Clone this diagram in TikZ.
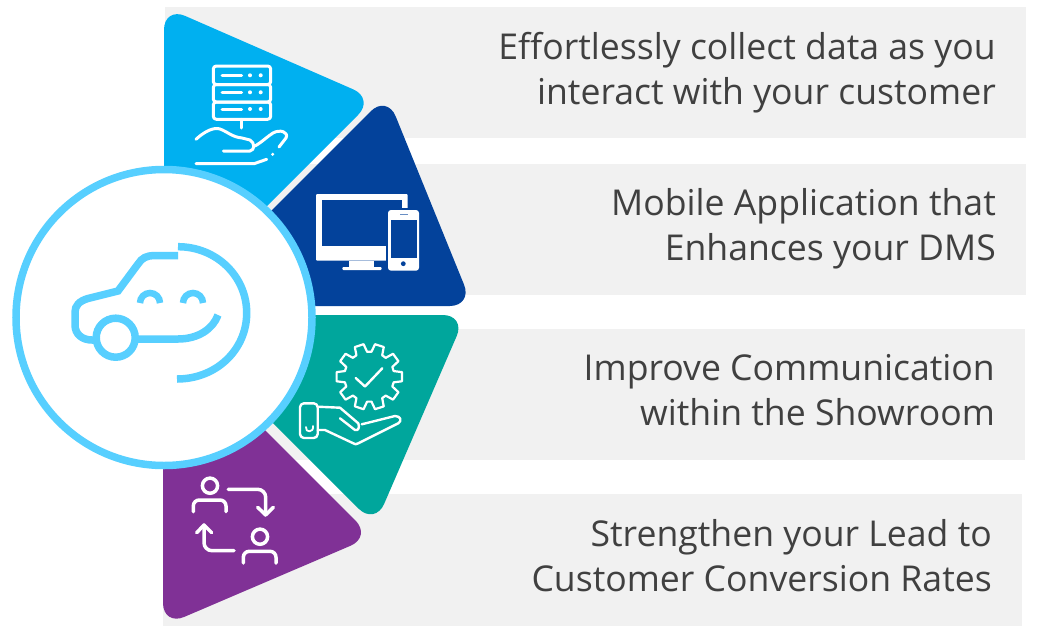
\documentclass[tikz,border=0pt]{standalone}
\usepackage{fontspec}
\setmainfont{Open Sans}
\definecolor{bandgray}{HTML}{F1F1F1}
\definecolor{skyblue}{HTML}{00B0F0}
\definecolor{navyblue}{HTML}{03429B}
\definecolor{tealgreen}{HTML}{00A69C}
\definecolor{plumpurple}{HTML}{803196}
\definecolor{ringblue}{HTML}{57CFFF}
\definecolor{textgray}{HTML}{404040}
\tikzset{
  band/.style={fill=bandgray, draw=none},
  petal/.style={rounded corners=23pt, draw=none},
  caption/.style={anchor=base east, align=right, text=textgray, font=\fontsize{35.6}{45}\selectfont, inner sep=0pt},
  iconline/.style={draw=white, line width=3pt, line cap=round, line join=round},
  carline/.style={draw=ringblue, line width=7.5pt},
}
\begin{document}
\begin{tikzpicture}[x=1pt, y=-1pt]
    \useasboundingbox (0,0) rectangle (1038,635);
    % bands
    \fill[band] (165,7) rectangle (1026,138);
    \fill[band] (165,164) rectangle (1026,295);
    \fill[band] (165,329) rectangle (1025,460);
    \fill[band] (163,494) rectangle (1022,626);
    % petals
    \fill[petal, skyblue] (164,6.7) -- (374.4,98.6) -- (230,243) -- (164,243) -- cycle;
    \fill[petal, navyblue] (387,95) -- (472.7,306) -- (176,306) -- cycle;
    \fill[petal, tealgreen] (465.8,315) -- (375,525) -- (165,315) -- cycle;
    \fill[petal, plumpurple] (163,626) -- (371.7,536.7) -- (163,328) -- cycle;
    % centre ring
    \draw[ringblue, fill=white, line width=7.5pt] (164,317.5) circle (148);
    % car
    \draw[carline] (178,255.6) -- (155,255.6) .. controls (146,255.6) and (142,258) .. (138,264) -- (118,291) -- (88,298.5) .. controls (79,301) and (75,306) .. (75,312) -- (75,325) .. controls (75,334) and (82,340) .. (92,340) -- (97,340);
    \draw[carline] (115.7,337.7) circle (19.5);
    \draw[carline] (138,339) -- (178,339) .. controls (198,339) and (213,329) .. (218,315);
    \draw[carline, line width=6.5pt] (140,303) arc[start angle=180, end angle=360, radius=10];
    \draw[carline, line width=6.5pt] (183,303) arc[start angle=180, end angle=360, radius=10];
    \draw[carline] (178,246.7) .. controls (216,246.7) and (246.7,276) .. (246.7,313) .. controls (246.7,350) and (216,379) .. (177,379);
    % server and hand
    \draw[iconline, rounded corners=3pt] (213.3,66) rectangle (270.7,84.5);
    \draw[iconline, rounded corners=3pt] (213.3,84.5) rectangle (270.7,102);
    \draw[iconline, rounded corners=3pt] (213.3,102) rectangle (270.7,119.3);
    \foreach \rowy in {75.3,92.3,109} {
      \draw[iconline] (222,\rowy) -- (241.7,\rowy);
      \fill[white] (250,\rowy) circle (2);
      \fill[white] (260.7,\rowy) circle (2);
    }
    \draw[iconline] (241.7,119.3) -- (241.7,128);
    \draw[iconline] (196,139.3) .. controls (205,131) and (214,127) .. (220,129) .. controls (228,132) and (232,137) .. (242,138) -- (250,140) .. controls (255,143) and (255,150) .. (250,151) -- (223.3,151);
    \draw[iconline] (255,146) .. controls (262,142) and (268,136) .. (273,133) .. controls (280,129) and (289,132) .. (286,138) -- (279,147);
    \fill[white] (272.7,154.3) circle (1.7);
    \draw[iconline] (196,163.7) -- (254,163.7) -- (266.7,159.3);
    % monitor and phone
    \fill[white, rounded corners=1pt] (316,194) rectangle (407.7,260.7);
    \fill[navyblue] (322.3,200) rectangle (401.7,245.7);
    \fill[white] (349,260.7) rectangle (374,267);
    \fill[white, rounded corners=1pt] (342.3,267) rectangle (381.7,270);
    \fill[navyblue, rounded corners=4pt] (386,208) rectangle (421,273);
    \fill[white, rounded corners=3pt] (388,210) rectangle (419,270.7);
    \fill[navyblue] (390.7,220) rectangle (416.7,257.7);
    \fill[navyblue] (403.3,263.7) circle (2.4);
    \draw[navyblue!60, line width=0.6pt] (400,214) -- (408,214);
    % gear and hand
    \draw[iconline, line width=2.2pt, shift={(369.3,376.7)}] (-8:33)
      \foreach \toothang in {0,36,...,324} {
        -- (\toothang-8:33) -- (\toothang+8:33) -- (\toothang+13:25) -- (\toothang+23:25)
      } -- cycle;
    \draw[iconline, line width=2.4pt] (355.7,378) -- (365,386.5) -- (382.3,368.3);
    \draw[iconline, line width=2.4pt, rounded corners=4pt] (300,403.3) rectangle (317.7,438);
    \draw[iconline, line width=1.8pt] (313,426) .. controls (314,433) and (305,433) .. (306,427);
    \draw[iconline, line width=2.4pt] (317.7,406.7) -- (340,407.7) -- (358.3,423.3) .. controls (360,428) and (358,431) .. (355,430) -- (340,418.3);
    \draw[iconline, line width=2.4pt] (361.7,424.3) -- (395,416) .. controls (401,416) and (402,421) .. (398.3,423.3) -- (358.3,443.3) .. controls (356,444.5) and (355,444.5) .. (353.3,443.3) -- (325,430) -- (317.7,430);
    % people
    \draw[iconline, line width=3.5pt] (210,485.7) circle (7.6);
    \draw[iconline, line width=3.5pt, rounded corners=6pt] (193.3,511.7) -- (193.3,500) -- (226,500) -- (226,511.7);
    \draw[iconline, line width=3.5pt, rounded corners=8pt] (228.3,489.3) -- (265.7,489.3) -- (265.7,515);
    \draw[iconline, line width=3.5pt] (257.7,507.3) -- (265.7,515) -- (273.3,507.3);
    \draw[iconline, line width=3.5pt] (260,536.7) circle (7.6);
    \draw[iconline, line width=3.5pt, rounded corners=6pt] (243.3,563) -- (243.3,551.3) -- (276,551.3) -- (276,563);
    \draw[iconline, line width=3.5pt, rounded corners=8pt] (234,550.7) -- (204,550.7) -- (204,525);
    \draw[iconline, line width=3.5pt] (196.7,532.7) -- (204,525) -- (211.7,532.7);
    % captions
    \node[caption] (collect) at (996,104) {Effortlessly collect data as you\\interact with your customer};
    \node[caption] (mobile) at (996,260) {Mobile Application that\\Enhances your DMS};
    \node[caption] (improve) at (995,425) {Improve Communication\\within the Showroom};
    \node[caption] (strengthen) at (992,591) {Strengthen your Lead to\\Customer Conversion Rates};
\end{tikzpicture}
\end{document}
